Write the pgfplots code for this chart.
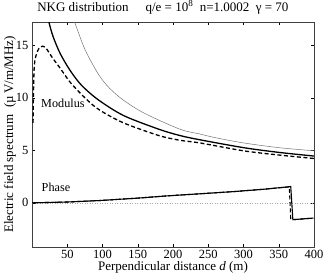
\documentclass[border=0pt]{standalone}
\usepackage{fontspec}
\setmainfont{Liberation Serif}
\usepackage{pgfplots}
\pgfplotsset{compat=1.18}
\begin{document}
\begin{tikzpicture}
\begin{axis}[
 scale only axis, width=282pt, height=225pt,
 xmin=0, xmax=400, ymin=-4.2, ymax=17.2,
 xtick={50,100,...,400}, ytick={0,5,10,15},
 tick align=inside, major tick length=3pt,
 tick style={black, line width=0.4pt},
 axis line style={line width=0.6pt, black!75},
 font=\fontsize{13}{15}\selectfont,
 tick label style={font=\fontsize{12.5}{14}\selectfont},
 /pgf/number format/assume math mode=true,
 xlabel={Perpendicular distance \textit{d} (m)},
 ylabel={Electric field spectrum\ \ (µ\,V/m/MHz)},
 xlabel style={yshift=4pt},
 ylabel style={at={(axis description cs:-0.078,0.5)}, anchor=center},
 title={NKG distribution\hspace{1.3em}q/e = 10\textsuperscript{8}\ \ n=1.0002\ \ γ = 70},
 title style={at={(0.018,1.021)}, anchor=base west, inner sep=0pt},
 clip mode=individual,
]
% zero line
\addplot[gray!70, dotted, line width=0.5pt] coordinates {(0,0) (400,0)};
% thin gray modulus
\addplot[black!55, line width=0.5pt, smooth] coordinates {
(52,19.3) (55,18.5) (60,17.3) (68,15.8) (75,14.6) (85,13.3) (96.5,12.0) (110,10.9) (130,9.75) (160,8.5) (210,7.0) (238,6.55) (260,6.2) (300,5.7) (350,5.25) (400,4.95)};
% solid thick modulus
\addplot[black, line width=1.3pt, smooth] coordinates {
(18,19.2) (24,17.2) (30,15.8) (40,14.2) (54,12.6) (70,11.2) (94,9.8) (130,8.3) (180,7.0) (210,6.4) (238,6.0) (300,5.25) (350,4.8) (400,4.45)};
% dashed modulus
\addplot[black, line width=1.3pt, dash pattern=on 4pt off 2.5pt, smooth, tension=0.5] coordinates {
(1.5,7.6) (2,10.0) (2.8,12.4) (4,13.5) (6.6,14.2) (10,14.7) (15,14.9) (20,14.7) (25,14.2) (30,13.7) (40,12.8) (55,11.4) (78,9.8) (96.5,8.8) (130,7.6) (180,6.4) (210,5.95) (238,5.7) (300,4.95) (350,4.55) (400,4.22)};
% phase dashed
\addplot[black, line width=1.1pt, dash pattern=on 4pt off 2.5pt] coordinates {
(0,0) (50,0.08) (96,0.22) (150,0.45) (191,0.66) (240,0.87) (286,1.07) (330,1.3) (365,1.52) (367,-1.5) (370,-1.6) (399,-1.45)};
% phase solid
\addplot[black, line width=1.1pt] coordinates {
(0,0) (50,0.08) (96,0.22) (150,0.45) (191,0.66) (240,0.87) (286,1.07) (330,1.3) (367,1.55) (370,-1.6) (399,-1.45)};
\node[anchor=west, inner sep=0pt, font=\fontsize{12.2}{14}\selectfont] at (axis cs:12.8,9.5) {Modulus};
\node[anchor=west, inner sep=0pt, font=\fontsize{12.2}{14}\selectfont] at (axis cs:13.5,1.5) {Phase};
\end{axis}
\pgfresetboundingbox
\path[use as bounding box] ([shift={(-32pt,-27pt)}]current axis.south west) rectangle ([shift={(13pt,22pt)}]current axis.north east);
\end{tikzpicture}
\end{document}
